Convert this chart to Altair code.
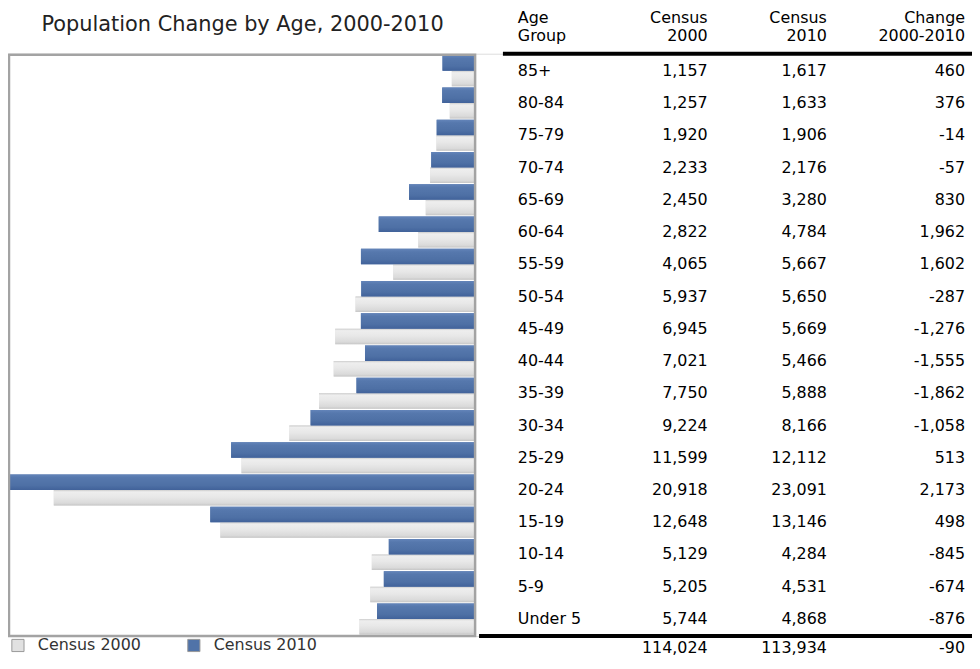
import altair as alt
import pandas as pd

# ---------------- data ----------------
ages = ["85+", "80-84", "75-79", "70-74", "65-69", "60-64", "55-59", "50-54",
        "45-49", "40-44", "35-39", "30-34", "25-29", "20-24", "15-19", "10-14",
        "5-9", "Under 5"]
census_2000 = [1157, 1257, 1920, 2233, 2450, 2822, 4065, 5937, 6945, 7021,
               7750, 9224, 11599, 20918, 12648, 5129, 5205, 5744]
census_2010 = [1617, 1633, 1906, 2176, 3280, 4784, 5667, 5650, 5669, 5466,
               5888, 8166, 12112, 23091, 13146, 4284, 4531, 4868]
change = [460, 376, -14, -57, 830, 1962, 1602, -287, -1276, -1555, -1862,
          -1058, 513, 2173, 498, -845, -674, -876]
totals = [114024, 113934, -90]
series = ["Census 2000", "Census 2010"]
header_labels = ["Age\nGroup", "Census\n2000", "Census\n2010", "Change\n2000-2010"]
title_text = ["Population Change by Age, 2000-2010"]


def fmt(v):
    return f"{v:,}"


bars = pd.DataFrame({
    "age": ages * 2,
    "series": [series[0]] * len(ages) + [series[1]] * len(ages),
    "value": census_2000 + census_2010,
})
table = pd.DataFrame({
    "age": ages,
    "c2000": [fmt(v) for v in census_2000],
    "c2010": [fmt(v) for v in census_2010],
    "chg": [fmt(v) for v in change],
})
header = pd.DataFrame({
    "age": [header_labels[0]], "c2000": [header_labels[1]],
    "c2010": [header_labels[2]], "chg": [header_labels[3]],
})
total = pd.DataFrame({
    "c2000": [fmt(totals[0])], "c2010": [fmt(totals[1])], "chg": [fmt(totals[2])],
})
title_df = pd.DataFrame({"t": title_text})

# ---------------- style ----------------
FONT = "DejaVu Sans"
FS = 16
W, H = 970, 586
PLOT_W = 470
XMAX = 23190
BLUE = "#5073a8"
GRAY = "#e1e1e1"


def grad(stops):
    return alt.Gradient(gradient="linear", x1=0, x2=0, y1=0, y2=1,
                        stops=[alt.GradientStop(color=c, offset=o) for o, c in stops])


GRAY_GRAD = grad([(0, "#cdcdcd"), (0.12, "#eeeeee"), (0.45, "#e8e8e8"),
                  (0.85, "#dadada"), (1, "#c6c6c6")])
BLUE_GRAD = grad([(0, "#6384b9"), (0.2, "#5678ad"), (0.7, "#4e70a5"),
                  (1, "#41629a")])

y_enc = alt.Y("age:N", sort=ages, axis=None,
              scale=alt.Scale(paddingInner=0.04, paddingOuter=0.05))
x_enc = alt.X("value:Q", axis=None,
              scale=alt.Scale(domain=[0, XMAX], range=[PLOT_W, 0], nice=False))
yoff_enc = alt.YOffset("series:N", sort=[series[1], series[0]],
                       scale=alt.Scale(paddingInner=0, paddingOuter=0))

bar_layer = alt.Chart(bars).mark_bar().encode(
    x=x_enc, y=y_enc, yOffset=yoff_enc,
    color=alt.Color("series:N",
                    scale=alt.Scale(domain=series, range=[GRAY, BLUE]),
                    legend=alt.Legend(title=None, orient="none", legendX=2, legendY=H + 1,
                                      direction="horizontal", symbolType="square",
                                      symbolSize=150, symbolStrokeColor="#999999",
                                      symbolStrokeWidth=1, labelFont=FONT,
                                      labelFontSize=16, labelColor="#333333",
                                      labelOffset=12, columnPadding=44)),
)

grad_layers = [
    alt.Chart(bars).transform_filter(alt.datum.series == s).mark_bar(color=g).encode(
        x=x_enc, y=y_enc, yOffset=yoff_enc)
    for s, g in [(series[0], GRAY_GRAD), (series[1], BLUE_GRAD)]
]

frame = alt.Chart(pd.DataFrame({"f": [0]})).mark_rect(
    fillOpacity=0, stroke="#a3a3a3", strokeWidth=2.5
).encode(x=alt.value(1), x2=alt.value(PLOT_W), y=alt.value(1), y2=alt.value(H))


def col_text(df, field, xpos, align, y, **kw):
    return alt.Chart(df).mark_text(
        align=align, baseline="middle", font=FONT, fontSize=FS, color="#000000", **kw
    ).encode(x=alt.value(xpos), y=y, text=f"{field}:N")


X_AGE, X_C0, X_C1, X_CH = 513, 704, 824, 963

rows = [
    col_text(table, "age", X_AGE, "left", y_enc),
    col_text(table, "c2000", X_C0, "right", y_enc),
    col_text(table, "c2010", X_C1, "right", y_enc),
    col_text(table, "chg", X_CH, "right", y_enc),
]
heads = [
    alt.Chart(header).mark_text(align=a, baseline="alphabetic", font=FONT, fontSize=FS,
                                color="#000000", lineBreak="\n", lineHeight=18).encode(
        x=alt.value(xp), y=alt.value(-31), text=f"{f}:N")
    for f, xp, a in [("age", X_AGE, "left"), ("c2000", X_C0, "right"),
                     ("c2010", X_C1, "right"), ("chg", X_CH, "right")]
]
tots = [
    col_text(total, f, xp, "right", alt.value(H + 12))
    for f, xp in [("c2000", X_C0), ("c2010", X_C1), ("chg", X_CH)]
]
title = alt.Chart(title_df).mark_text(
    align="center", baseline="alphabetic", font=FONT, fontSize=21, color="#222222"
).encode(x=alt.value(236), y=alt.value(-23), text="t:N")

rule_top = alt.Chart(pd.DataFrame({"r": [0]})).mark_rule(color="#000000", strokeWidth=4).encode(
    x=alt.value(498), x2=alt.value(W), y=alt.value(0))
rule_bot = alt.Chart(pd.DataFrame({"r": [0]})).mark_rule(color="#000000", strokeWidth=4).encode(
    x=alt.value(474), x2=alt.value(W), y=alt.value(H))

chart = alt.layer(
    bar_layer, *grad_layers, frame, *rows, *heads, *tots, title, rule_top, rule_bot
).properties(
    width=W, height=H,
    autosize=alt.AutoSizeParams(type="none"),
    padding={"left": 0, "top": 44, "right": 0, "bottom": 18},
).configure_view(stroke=None).configure(background="white")

chart.save("out.html", embed_options={"renderer": "svg", "actions": False})
